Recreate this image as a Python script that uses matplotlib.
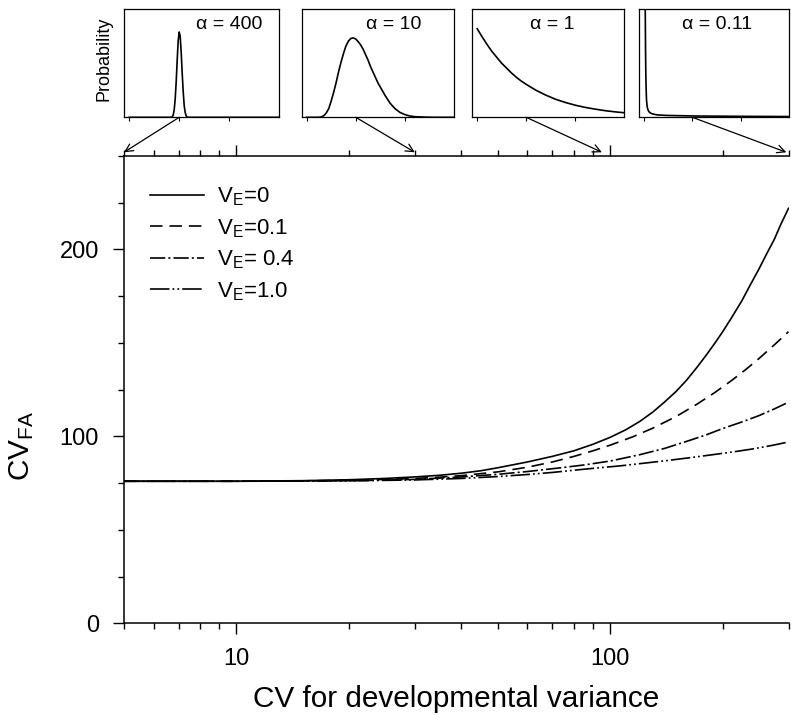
import matplotlib
matplotlib.use("Agg")
import matplotlib.pyplot as plt
from matplotlib.patches import ConnectionPatch
from matplotlib.ticker import LogLocator, MultipleLocator, NullFormatter

plt.rcParams['font.family'] = ['Liberation Sans', 'DejaVu Sans']
plt.rcParams['mathtext.fontset'] = 'custom'
plt.rcParams['mathtext.rm'] = 'Liberation Sans'
plt.rcParams['mathtext.it'] = 'Liberation Sans:italic'
plt.rcParams['mathtext.bf'] = 'Liberation Sans:bold'
plt.rcParams['lines.scale_dashes'] = False

# Main panel: CV_FA against CV for developmental variance, one curve per V_E
cv_ve0 = [5, 10, 15, 20, 25, 30, 35, 40, 45, 50, 60, 70, 80, 90, 100, 110, 120, 130, 140, 150,
          160, 170, 180, 190, 200, 212, 225, 237, 250, 262, 275, 287, 300]
fa_ve0 = [76, 76, 76.3, 76.8, 77.5, 78.3, 79.2, 80.3, 81.6, 83.2, 86.3, 89.3, 92.3, 95.8, 99.5,
          103.5, 108, 113, 118.5, 124, 130, 136.5, 143, 149.5, 156, 164, 172.5, 181, 189.5,
          197.5, 205.5, 214, 222]

cv_ve01 = [5, 10, 15, 20, 25, 30, 35, 40, 50, 60, 70, 80, 90, 100, 115, 130, 150, 170, 190,
           210, 230, 250, 275, 300]
fa_ve01 = [76, 76, 76.2, 76.5, 77, 77.5, 78.2, 79, 81, 83.5, 86.3, 89.3, 92.3, 95.3, 99.8,
           104.4, 110.6, 117, 123.3, 129.5, 135.6, 141.6, 149, 156]

cv_ve04 = [5, 10, 15, 20, 25, 30, 40, 50, 60, 73, 85, 100, 120, 140, 160, 180, 200, 225, 250,
           275, 300]
fa_ve04 = [76, 76, 76.1, 76.3, 76.6, 77, 78.3, 79.7, 81.2, 83.1, 84.7, 86.8, 90.2, 93.6, 97.3,
           100.7, 104.2, 107.7, 111.1, 114.7, 118.3]

cv_ve10 = [5, 10, 15, 20, 30, 40, 50, 60, 70, 80, 90, 106, 125, 141, 165, 188, 215, 241, 270, 300]
fa_ve10 = [76, 76, 76.1, 76.2, 76.7, 77.5, 78.5, 79.6, 80.7, 81.9, 82.9, 84.2, 85.8, 87, 88.7,
           90.2, 91.8, 93.3, 95.1, 97]

ve_labels = [r'V$_\mathrm{E}$=0', r'V$_\mathrm{E}$=0.1', r'V$_\mathrm{E}$= 0.4', r'V$_\mathrm{E}$=1.0']

# Insets: distribution shapes for four alpha values (height as fraction of the box)
alpha_labels = ['400', '10', '1', '0.11']
dist_x = [
    [0, 0.84, 0.86, 0.88, 0.9, 0.92, 0.94, 0.96, 0.98, 1.0, 1.02, 1.04, 1.06, 1.08, 1.1, 1.12,
     1.14, 1.16, 1.18, 3.0],
    [0, 0.25, 0.3, 0.35, 0.4, 0.45, 0.5, 0.55, 0.6, 0.65, 0.7, 0.75, 0.8, 0.85, 0.9, 0.95, 1.0,
     1.05, 1.1, 1.15, 1.2, 1.25, 1.3, 1.35, 1.4, 1.45, 1.5, 1.6, 1.7, 1.8, 1.9, 2.0, 2.1, 2.2,
     2.4, 2.6, 3.0],
    [0, 0.1, 0.2, 0.3, 0.4, 0.5, 0.6, 0.7, 0.8, 0.9, 1.0, 1.2, 1.4, 1.6, 1.8, 2.0, 2.2, 2.4,
     2.6, 2.8, 3.0],
    [0.02, 0.025, 0.03, 0.035, 0.04, 0.045, 0.05, 0.06, 0.07, 0.085, 0.1, 0.13, 0.17, 0.27, 0.5,
     1.08, 2.0, 3.0],
]
dist_y = [
    [0, 0, 0.005, 0.02, 0.07, 0.17, 0.33, 0.53, 0.71, 0.79, 0.75, 0.6, 0.41, 0.24, 0.11, 0.045,
     0.013, 0.003, 0, 0],
    [0, 0, 0.004, 0.015, 0.04, 0.08, 0.15, 0.23, 0.32, 0.42, 0.51, 0.59, 0.66, 0.705, 0.73,
     0.735, 0.725, 0.7, 0.67, 0.63, 0.58, 0.53, 0.47, 0.42, 0.37, 0.32, 0.28, 0.2, 0.13, 0.08,
     0.045, 0.025, 0.012, 0.006, 0.002, 0, 0],
    [0.82, 0.745, 0.675, 0.61, 0.555, 0.5, 0.455, 0.41, 0.37, 0.335, 0.305, 0.25, 0.205, 0.167,
     0.137, 0.112, 0.092, 0.076, 0.062, 0.051, 0.042],
    [1.2, 0.9, 0.6, 0.42, 0.3, 0.22, 0.16, 0.11, 0.085, 0.065, 0.052, 0.04, 0.032, 0.022, 0.017,
     0.012, 0.009, 0.007],
]
# where each inset's arrow points on the CV axis
arrow_cv = [5, 30, 95, 296]

W, H = 791, 715
fig = plt.figure(figsize=(W / 100, H / 100), dpi=100)

ax = fig.add_axes([124 / W, (H - 623.3) / H, 664.5 / W, 467.3 / H])
ax.plot(cv_ve0, fa_ve0, color='black', lw=1.2, linestyle='-', label=ve_labels[0])
ax.plot(cv_ve01, fa_ve01, color='black', lw=1.2, linestyle=(0, (9, 5)), label=ve_labels[1])
ax.plot(cv_ve04, fa_ve04, color='black', lw=1.2, linestyle=(0, (11, 2.2, 1.5, 2.2)), label=ve_labels[2])
ax.plot(cv_ve10, fa_ve10, color='black', lw=1.2,
        linestyle=(0, (14, 2.2, 1.3, 2.2, 1.3, 2.2)), label=ve_labels[3])

ax.set_xscale('log')
ax.set_xlim(5, 300)
ax.set_ylim(0, 250)
ax.set_xticks([10, 100])
ax.set_xticklabels(['10', '100'])
ax.xaxis.set_minor_locator(LogLocator(base=10, subs=(2, 3, 4, 5, 6, 7, 8, 9)))
ax.xaxis.set_minor_formatter(NullFormatter())
ax.set_yticks([0, 100, 200])
ax.yaxis.set_minor_locator(MultipleLocator(25))
ax.spines['right'].set_visible(False)
for s in ['left', 'bottom', 'top']:
    ax.spines[s].set_linewidth(1.1)
ax.tick_params(which='both', direction='out', top=True, right=False, width=1.0)
ax.tick_params(which='major', length=8, labelsize=17, pad=10)
ax.tick_params(which='minor', length=4)

ax.set_xlabel('CV for developmental variance', fontsize=21.4)
ax.xaxis.set_label_coords(0.5, -0.133)
fig.text(22 / W, (H - 446) / H, r'CV$_\mathrm{FA}$', rotation=90, fontsize=21.4,
         ha='center', va='center')

ax.legend(loc='upper left', bbox_to_anchor=(0.0395, 0.937), frameon=False, fontsize=16,
          handlelength=2.4, handletextpad=0.62, labelspacing=0.4, borderpad=0, borderaxespad=0)

# inset boxes, pixel left/right edges
inset_edges = [(124.3, 279), (301.7, 454), (472.3, 624.3), (639.3, 788.7)]
label_pos = [0.677, 0.606, 0.528, 0.52]
for i, (x0, x1) in enumerate(inset_edges):
    iax = fig.add_axes([x0 / W, (H - 117.3) / H, (x1 - x0) / W, 108 / H])
    iax.plot(dist_x[i], dist_y[i], color='black', lw=1.2)
    iax.set_xlim(-0.1, 3.0)
    iax.set_ylim(0, 1)
    iax.set_xticks([0, 1, 2])
    iax.set_xticklabels([])
    iax.set_yticks([])
    iax.tick_params(direction='out', length=3, width=0.8)
    for s in iax.spines.values():
        s.set_linewidth(0.9)
    iax.text(label_pos[i], 0.855, '\u03b1 = ' + alpha_labels[i], transform=iax.transAxes,
             ha='center', va='center', fontsize=14)
    con = ConnectionPatch(xyA=(1, 0), coordsA=iax.transData, xyB=(arrow_cv[i], 252),
                          coordsB=ax.transData, arrowstyle='->', mutation_scale=14,
                          lw=0.9, color='black', shrinkA=0, shrinkB=0)
    fig.add_artist(con)

fig.text(104 / W, (H - 59) / H, 'Probability', rotation=90, fontsize=13,
         ha='center', va='center')

fig.savefig('out.png', dpi=100)
